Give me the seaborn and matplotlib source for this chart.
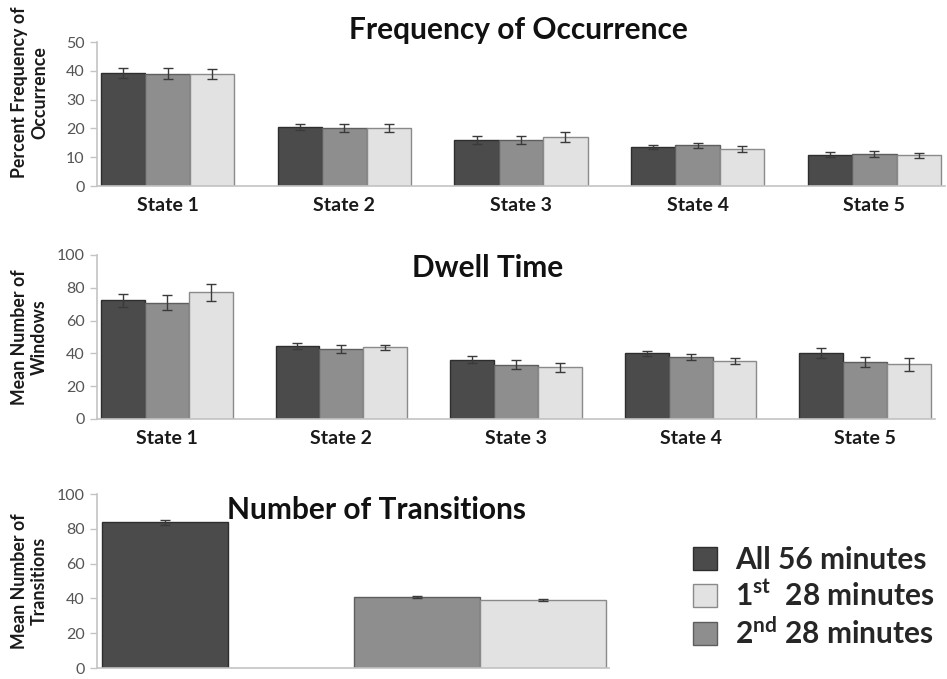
import numpy as np
import pandas as pd
import matplotlib
matplotlib.use("Agg")
import matplotlib.pyplot as plt
from matplotlib.patches import Patch
import seaborn as sns

sns.set_theme(style="white")
plt.rcParams["font.family"] = ["Lato", "DejaVu Sans"]
plt.rcParams["mathtext.fontset"] = "custom"
plt.rcParams["mathtext.rm"] = "Lato:bold"
plt.rcParams["mathtext.bf"] = "Lato:bold"

# ---- data -------------------------------------------------------------
states = ["State 1", "State 2", "State 3", "State 4", "State 5"]
periods = ["All 56 minutes", "2nd 28 minutes", "1st 28 minutes"]

freq_all = [39.2, 20.5, 16.0, 13.4, 10.9]
freq_2nd = [39.0, 20.2, 16.0, 14.2, 11.1]
freq_1st = [38.9, 20.2, 16.9, 12.8, 10.6]
freq_err_all = [1.6, 1.1, 1.3, 0.7, 1.0]
freq_err_2nd = [1.8, 1.3, 1.3, 0.9, 1.2]
freq_err_1st = [1.7, 1.3, 1.7, 1.0, 1.0]

dwell_all = [72.3, 44.3, 36.2, 40.0, 40.5]
dwell_2nd = [71.0, 42.8, 33.2, 37.8, 34.8]
dwell_1st = [77.2, 43.7, 31.6, 35.6, 33.3]
dwell_err_all = [4.0, 1.8, 2.0, 1.4, 3.0]
dwell_err_2nd = [4.6, 2.4, 2.5, 2.0, 3.3]
dwell_err_1st = [5.2, 1.6, 2.8, 1.9, 3.8]

trans_periods = ["All 56 minutes", " ", "2nd 28 minutes", "1st 28 minutes"]
trans_values = [83.8, 40.7, 39.2]
trans_errors = [1.4, 0.6, 0.6]
trans_labels = ["All 56 minutes", "2nd 28 minutes", "1st 28 minutes"]

legend_labels = ["All 56 minutes", "1$^{\\mathrm{st}}$  28 minutes", "2$^{\\mathrm{nd}}$ 28 minutes"]

colors = {"All 56 minutes": "#4b4b4b", "2nd 28 minutes": "#8e8e8e", "1st 28 minutes": "#e2e2e2"}
edges = {"All 56 minutes": "#2e2e2e", "2nd 28 minutes": "#5e5e5e", "1st 28 minutes": "#8a8a8a"}

W, H = 947, 679
fig = plt.figure(figsize=(W / 100, H / 100), dpi=100)

TITLE_SIZE = 21.5
YLABEL_SIZE = 12.8


def px_axes(x0, y_top, x1, y_bottom):
    return fig.add_axes([x0 / W, 1 - y_bottom / H, (x1 - x0) / W, (y_bottom - y_top) / H])


def style_axes(ax, ymax, step):
    ax.set_ylim(0, ymax)
    ax.set_yticks(np.arange(0, ymax + 1, step))
    for s in ["top", "right"]:
        ax.spines[s].set_visible(False)
    for s in ["left", "bottom"]:
        ax.spines[s].set_color("#c4c4c4")
        ax.spines[s].set_linewidth(1.2)
    ax.tick_params(axis="y", which="both", left=True, length=5, width=1.0,
                   color="#c4c4c4", labelsize=11.5, labelcolor="#555555", pad=4)
    ax.tick_params(axis="x", bottom=False, labelsize=14, labelcolor="#1a1a1a", pad=2)
    for t in ax.get_xticklabels():
        t.set_fontweight("bold")
    ax.set_xlabel("")


def set_ylabel(ax, text, x0, y_top, x1, y_bottom, yfrac):
    ax.set_ylabel(text, fontsize=YLABEL_SIZE, fontweight="bold", color="#1a1a1a",
                  linespacing=1.2)
    ax.yaxis.set_label_coords((48 - x0) / (x1 - x0), yfrac)


def recolor_edges(ax):
    for patch in ax.patches:
        fc = matplotlib.colors.to_hex(patch.get_facecolor())
        for p, col in colors.items():
            if fc == col:
                patch.set_edgecolor(edges[p])


def grouped_panel(box, a, b, c, ea, eb, ec, ymax, step, ylabel, yfrac, title, title_x, title_y):
    ax = px_axes(*box)
    df = pd.DataFrame({
        "state": states * 3,
        "period": np.repeat(periods, len(states)),
        "value": a + b + c,
    })
    width = 0.755
    sns.barplot(data=df, x="state", y="value", hue="period", hue_order=periods,
                order=states, palette=colors, width=width, errorbar=None,
                linewidth=1.0, edgecolor="#444444", legend=False, ax=ax)
    n = len(periods)
    for j, (err, vals) in enumerate(zip([ea, eb, ec], [a, b, c])):
        xs = np.arange(len(states)) + (j - (n - 1) / 2) * width / n
        ax.errorbar(xs, vals, yerr=err, fmt="none", ecolor="#3a3a3a",
                    elinewidth=1.0, capsize=3.5, capthick=1.0, zorder=5)
    recolor_edges(ax)
    ax.set_xlim(-0.4, 4.4)
    style_axes(ax, ymax, step)
    set_ylabel(ax, ylabel, box[0], box[1], box[2], box[3], yfrac)
    fig.text(title_x / W, 1 - title_y / H, title, ha="center", va="center",
             fontsize=TITLE_SIZE, fontweight="bold", color="#111111")
    return ax


# ---- frequency of occurrence ----
grouped_panel((97, 42, 945, 186), freq_all, freq_2nd, freq_1st,
              freq_err_all, freq_err_2nd, freq_err_1st,
              50, 10, "Percent Frequency of\nOccurrence", 0.65,
              "Frequency of Occurrence", 518, 30)

# ---- dwell time ----
grouped_panel((97, 255, 935, 419), dwell_all, dwell_2nd, dwell_1st,
              dwell_err_all, dwell_err_2nd, dwell_err_1st,
              100, 20, "Mean Number of\nWindows", 0.5,
              "Dwell Time", 488, 268)

# ---- number of transitions ----
box3 = (97, 494, 609, 668)
ax3 = px_axes(*box3)
tdf = pd.DataFrame({"period": trans_labels, "value": trans_values})
sns.barplot(data=tdf, x="period", y="value", hue="period", order=trans_periods,
            hue_order=trans_labels, palette=colors, width=1.0, errorbar=None,
            linewidth=1.0, edgecolor="#444444", legend=False, ax=ax3)
recolor_edges(ax3)
txs = [trans_periods.index(p) for p in trans_labels]
ax3.errorbar(txs, trans_values, yerr=trans_errors, fmt="none", ecolor="#3a3a3a",
             elinewidth=1.0, capsize=3.5, capthick=1.0, zorder=5)
ax3.set_xlim(-0.54, 3.52)
style_axes(ax3, 100, 20)
ax3.set_xticks([])
set_ylabel(ax3, "Mean Number of\nTransitions", *box3, 0.5)
fig.text(376 / W, 1 - 510 / H, "Number of Transitions", ha="center", va="center",
         fontsize=TITLE_SIZE, fontweight="bold", color="#111111")

# ---- legend ----
legend_order = ["All 56 minutes", "1st 28 minutes", "2nd 28 minutes"]
handles = [Patch(facecolor=colors[p], edgecolor=edges[p], linewidth=1.0) for p in legend_order]
fig.legend(handles, legend_labels, loc="upper left",
           bbox_to_anchor=(693 / W, 1 - 546 / H), frameon=False,
           prop={"family": "Lato", "weight": "bold", "size": 21.5},
           handlelength=0.8, handleheight=0.8, handletextpad=0.6,
           labelspacing=0.2, borderaxespad=0, borderpad=0)

fig.savefig("out.png", dpi=100, facecolor="white")
